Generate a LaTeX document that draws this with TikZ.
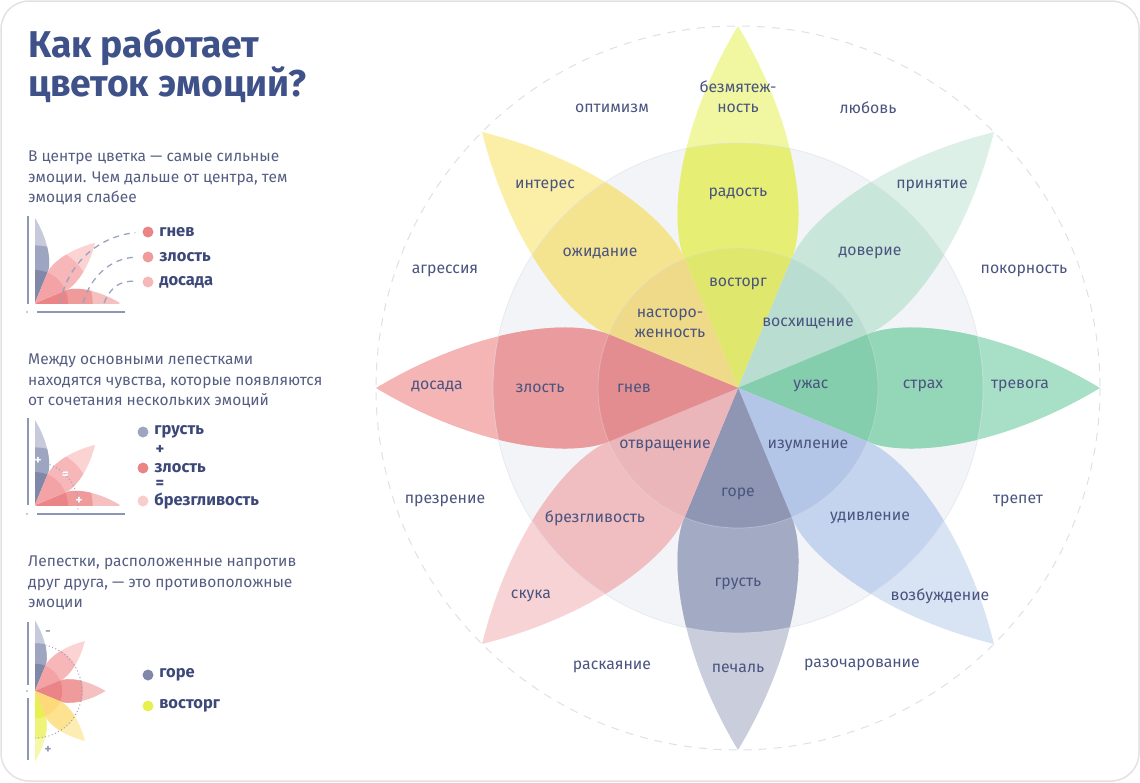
\documentclass[tikz,border=0pt]{standalone}
\usepackage{fontspec}
\setmainfont{Fira Sans}
\usetikzlibrary{positioning}

\definecolor{titleC}{HTML}{3F5189}
\definecolor{bodyC}{HTML}{555E82}
\definecolor{inkC}{HTML}{4A547F}
\definecolor{legC}{HTML}{3C4878}
\definecolor{frameC}{HTML}{E2E2E2}
\definecolor{ringC}{HTML}{F3F4F7}
\definecolor{ringL}{HTML}{DDE0E9}
\definecolor{axisC}{HTML}{8E96B6}
\definecolor{dashC}{HTML}{9AA2C2}
% petal colours: inner / middle / outer
\definecolor{ylIn}{HTML}{DFE86C}\definecolor{ylMid}{HTML}{E6EF74}\definecolor{ylOut}{HTML}{F0F7A0}
\definecolor{orIn}{HTML}{EFDA8A}\definecolor{orMid}{HTML}{F5E48F}\definecolor{orOut}{HTML}{FBEFA8}
\definecolor{mtIn}{HTML}{B9DDD0}\definecolor{mtMid}{HTML}{C9E6DA}\definecolor{mtOut}{HTML}{DDF0E7}
\definecolor{gnIn}{HTML}{85CEAD}\definecolor{gnMid}{HTML}{94D6B8}\definecolor{gnOut}{HTML}{A8E0C7}
\definecolor{blIn}{HTML}{B3C6E7}\definecolor{blMid}{HTML}{C4D4EE}\definecolor{blOut}{HTML}{D8E3F4}
\definecolor{slIn}{HTML}{8E96B4}\definecolor{slMid}{HTML}{A3AAC4}\definecolor{slOut}{HTML}{C9CDDC}
\definecolor{pkIn}{HTML}{EBB6B9}\definecolor{pkMid}{HTML}{F0BDC1}\definecolor{pkOut}{HTML}{F8D3D5}
\definecolor{rdIn}{HTML}{E48D90}\definecolor{rdMid}{HTML}{E99B9D}\definecolor{rdOut}{HTML}{F5B5B5}
% small petals
\definecolor{msIn}{HTML}{7F88A8}\definecolor{msMid}{HTML}{9EA5C0}\definecolor{msOut}{HTML}{C6CADB}
\definecolor{mpIn}{HTML}{F3A3A5}\definecolor{mpMid}{HTML}{F7B6B7}\definecolor{mpOut}{HTML}{FBD3D3}
\definecolor{mrIn}{HTML}{EB8486}\definecolor{mrMid}{HTML}{EF9B9B}\definecolor{mrOut}{HTML}{F5C0C0}
\definecolor{moIn}{HTML}{FDD97A}\definecolor{moMid}{HTML}{FDE38F}\definecolor{moOut}{HTML}{FEEDB3}
\definecolor{myIn}{HTML}{E6F050}\definecolor{myMid}{HTML}{EDF479}\definecolor{myOut}{HTML}{F4F8AA}

\newcommand\petalshape{(0,0) -- (22.5:140) .. controls (166,69) and (259,61.8) .. (362,0) .. controls (259,-61.8) and (166,-69) .. (-22.5:140) -- cycle}
\newcommand\bandpetal[3]{%
  \fill[fill=#3] \petalshape;
  \begin{scope}
    \clip (0,0) circle[radius=245];
    \fill[fill=#2] \petalshape;
  \end{scope}
  \begin{scope}
    \clip (0,0) circle[radius=140];
    \fill[fill=#1] \petalshape;
  \end{scope}}

\begin{document}
\begin{tikzpicture}[x=1pt,y=-1pt,
    title/.style={font=\fontsize{37.3}{38}\selectfont\bfseries, text=titleC, align=left, anchor=north west, inner sep=0pt},
    body/.style={font=\fontsize{15.5}{20.7}\selectfont, text=bodyC, align=left, anchor=north west, inner sep=0pt},
    lbl/.style={font=\fontsize{15.8}{20}\selectfont, text=inkC, align=center, inner sep=0pt},
    legend/.style={font=\fontsize{16.5}{17}\selectfont\bfseries, text=legC, anchor=west, inner sep=0pt},
    dot/.style={circle, inner sep=0pt, minimum size=11pt},
    axisline/.style={axisC, line width=1.2pt},
    arcline/.style={dashC, line width=1.3pt, dash pattern=on 6pt off 5pt},
    dotline/.style={dashC, line width=1pt, dash pattern=on 1pt off 2.5pt},
    sign/.style={font=\fontsize{13}{13}\selectfont\bfseries, inner sep=0pt}]

  \useasboundingbox (0,0) rectangle (1140,782);
  \draw[frameC, line width=1.5pt, rounded corners=28pt] (1,1) rectangle (1139,781);

  % title and explanations
  \node[title] (head) at (28,29) {Как работает\\цветок эмоций?};
  \node[body] (txt-a) at (28,150.5) {В центре цветка — самые сильные\\эмоции. Чем дальше от центра, тем\\эмоция слабее};
  \node[body] (txt-b) at (28,353.5) {Между основными лепестками\\находятся чувства, которые появляются\\от сочетания нескольких эмоций};
  \node[body] (txt-c) at (28,555.5) {Лепестки, расположенные напротив\\друг друга, — это противоположные\\эмоции};

  % the flower
  \begin{scope}[shift={(738,388)}]
    \fill[ringC] (0,0) circle[radius=245];
    \draw[ringL, line width=1pt, dash pattern=on 8pt off 7pt] (0,0) circle[radius=362];
    \foreach \ang/\ci/\cm/\co in {90/ylIn/ylMid/ylOut, 135/orIn/orMid/orOut, 45/mtIn/mtMid/mtOut,
        0/gnIn/gnMid/gnOut, -45/blIn/blMid/blOut, -90/slIn/slMid/slOut,
        -135/pkIn/pkMid/pkOut, 180/rdIn/rdMid/rdOut}{
      \begin{scope}[rotate=\ang]
        \bandpetal{\ci}{\cm}{\co}
      \end{scope}
    }
    \draw[ringL, line width=.8pt, opacity=.6] (0,0) circle[radius=245];
    \draw[ringL, line width=.8pt, opacity=.4] (0,0) circle[radius=140];
  \end{scope}

  % petal labels
  \node[lbl] (serenity) at (738,97) {безмятеж-\\ность};
  \node[lbl] (joy) at (738,194) {радость};
  \node[lbl] (ecstasy) at (738,284) {восторг};
  \node[lbl] (interest) at (545,186) {интерес};
  \node[lbl] (anticip) at (600,253) {ожидание};
  \node[lbl] (vigil) at (670,323) {насторо-\\женность};
  \node[lbl] (accept) at (932,186) {принятие};
  \node[lbl] (trust) at (870,253) {доверие};
  \node[lbl] (admire) at (808,323) {восхищение};
  \node[lbl] (annoy) at (437,386) {досада};
  \node[lbl] (anger) at (540,388) {злость};
  \node[lbl] (rage) at (634,388) {гнев};
  \node[lbl] (terror) at (811,386) {ужас};
  \node[lbl] (fear) at (923,386) {страх};
  \node[lbl] (worry) at (1020,386) {тревога};
  \node[lbl] (loath) at (665,446) {отвращение};
  \node[lbl] (disgust) at (595,518) {брезгливость};
  \node[lbl] (bored) at (531,596) {скука};
  \node[lbl] (amaze) at (808,446) {изумление};
  \node[lbl] (surprise) at (870,518) {удивление};
  \node[lbl] (excite) at (940,596) {возбуждение};
  \node[lbl] (grief) at (738,494) {горе};
  \node[lbl] (sad) at (738,584) {грусть};
  \node[lbl] (pensive) at (738,668) {печаль};
  % feelings between the petals
  \node[lbl] (optim) at (612,108) {оптимизм};
  \node[lbl] (love) at (868,108) {любовь};
  \node[lbl] (submit) at (1024,271) {покорность};
  \node[lbl] (awe) at (1018,501) {трепет};
  \node[lbl] (disap) at (862,665) {разочарование};
  \node[lbl] (remorse) at (612,667) {раскаяние};
  \node[lbl] (contempt) at (445,501) {презрение};
  \node[lbl] (aggress) at (445,271) {агрессия};

  % first small picture
  \draw[axisline] (28,216) -- (28,304);
  \draw[axisline] (37,312) -- (125,312);
  \fill[axisC] (27,312) circle[radius=.8];
  \begin{scope}[shift={(35,303)}]
    \begin{scope}
      \clip (0,0) rectangle (30,-100);
      \begin{scope}[rotate=90, scale=.235] \bandpetal{msIn}{msMid}{msOut} \end{scope}
    \end{scope}
    \begin{scope}
      \clip (0,0) rectangle (100,-30);
      \begin{scope}[scale=.235] \bandpetal{mrIn}{mrMid}{mrOut} \end{scope}
    \end{scope}
    \begin{scope}[rotate=45, scale=.235] \bandpetal{mpIn}{mpMid}{mpOut} \end{scope}
  \end{scope}
  \node[dot, fill=mrIn] (d-rage) at (148,232) {};
  \node[dot, fill=mrMid] (d-anger) at (148,257) {};
  \node[dot, fill=mpMid] (d-annoy) at (148,282) {};
  \node[legend, right=5.5pt of d-rage] (t-rage) {гнев};
  \node[legend, right=5.5pt of d-anger] (t-anger) {злость};
  \node[legend, right=5.5pt of d-annoy] (t-annoy) {досада};
  \coordinate (a-rage) at (60,303);
  \coordinate (a-anger) at (83,303);
  \coordinate (a-annoy) at (104,303);
  \draw[arcline, shorten >=7pt] (a-rage) .. controls (68,262) and (100,236) .. (d-rage.west);
  \draw[arcline, shorten >=7pt] (a-anger) .. controls (90,278) and (110,258) .. (d-anger.west);
  \draw[arcline, shorten >=7pt] (a-annoy) .. controls (110,288) and (120,280) .. (d-annoy.west);

  % second small picture
  \draw[axisline] (28,418) -- (28,505);
  \draw[axisline] (37,514) -- (125,514);
  \fill[axisC] (27,514) circle[radius=.8];
  \begin{scope}[shift={(35,505)}]
    \begin{scope}
      \clip (0,0) rectangle (30,-100);
      \begin{scope}[rotate=90, scale=.235] \bandpetal{msIn}{msMid}{msOut} \end{scope}
    \end{scope}
    \begin{scope}
      \clip (0,0) rectangle (100,-30);
      \begin{scope}[scale=.235] \bandpetal{mrIn}{mrMid}{mrOut} \end{scope}
    \end{scope}
    \begin{scope}[rotate=45, scale=.235] \bandpetal{mpIn}{mpMid}{mpOut} \end{scope}
    \draw[dotline] (-84:43) arc[start angle=-84, end angle=6, radius=43];
  \end{scope}
  \node[sign, text=white] (s-plus1) at (38,461) {+};
  \node[sign, text=white] (s-eq) at (65.5,475) {=};
  \node[sign, text=white] (s-plus2) at (79,501) {+};
  \node[dot, fill=msMid] (d-sad) at (143,432) {};
  \node[dot, fill=mrIn] (d-anger2) at (143,468) {};
  \node[dot, fill=mpOut!80!mpMid] (d-disgust) at (143,501) {};
  \node[legend, right=5.5pt of d-sad] (t-sad) {грусть};
  \node[legend, anchor=center] (t-plus) at (160,450) {+};
  \node[legend, right=5.5pt of d-anger2] (t-anger2) {злость};
  \node[legend, anchor=center] (t-eq) at (160,484) {=};
  \node[legend, right=5.5pt of d-disgust] (t-disgust) {брезгливость};

  % third small picture
  \draw[axisline] (28,622) -- (28,685);
  \draw[axisline] (28,698) -- (28,760);
  \fill[axisC] (27,691) circle[radius=.8];
  \begin{scope}[shift={(35,691)}]
    \begin{scope}
      \clip (0,0) rectangle (30,-100);
      \begin{scope}[rotate=90, scale=.195] \bandpetal{msIn}{msMid}{msOut} \end{scope}
    \end{scope}
    \begin{scope}
      \clip (0,0) rectangle (30,100);
      \begin{scope}[rotate=-90, scale=.195] \bandpetal{myIn}{myMid}{myOut} \end{scope}
    \end{scope}
    \begin{scope}[rotate=45, scale=.195] \bandpetal{mpIn}{mpMid}{mpOut} \end{scope}
    \begin{scope}[scale=.195] \bandpetal{mrIn}{mrMid}{mrOut} \end{scope}
    \begin{scope}[rotate=-45, scale=.195] \bandpetal{moIn}{moMid}{moOut} \end{scope}
    \draw[dotline] (-90:47) arc[start angle=-90, end angle=90, radius=47];
  \end{scope}
  \node[sign, text=axisC] (s-minus) at (48,633) {-};
  \node[sign, text=axisC] (s-plus3) at (48,750) {+};
  \node[dot, fill=msIn] (d-grief) at (148,675) {};
  \node[dot, fill=myIn] (d-ecstasy) at (148,706) {};
  \node[legend, right=5.5pt of d-grief] (t-grief) {горе};
  \node[legend, right=5.5pt of d-ecstasy] (t-ecstasy) {восторг};
\end{tikzpicture}
\end{document}
